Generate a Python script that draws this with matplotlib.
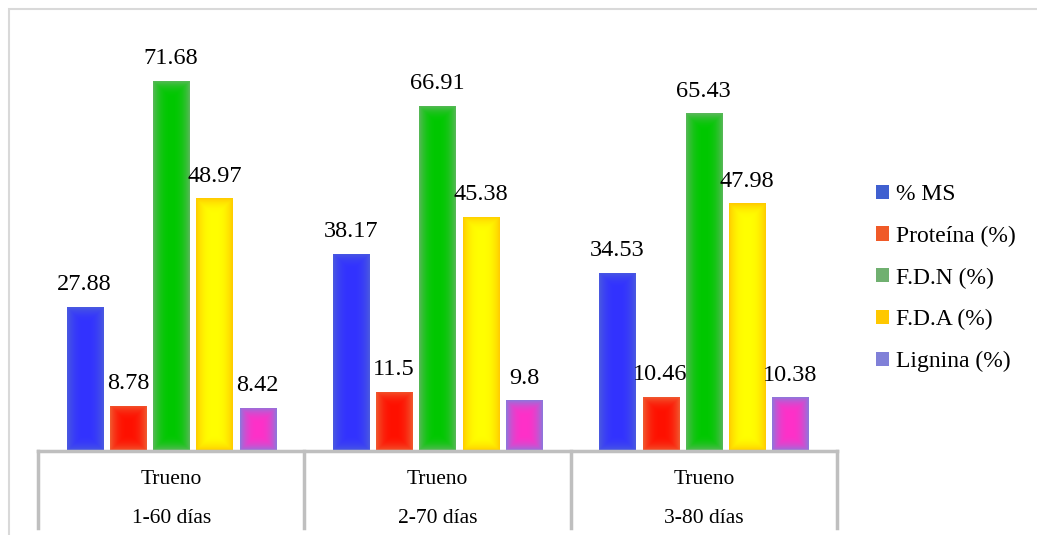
import numpy as np
import matplotlib.pyplot as plt
from matplotlib.patches import Rectangle, Patch
from matplotlib.colors import to_rgb

plt.rcParams['font.family'] = ['Liberation Serif', 'DejaVu Serif']

group_top = ["Trueno", "Trueno", "Trueno"]
group_bottom = ["1-60 días", "2-70 días", "3-80 días"]
series = ["% MS", "Proteína (%)", "F.D.N (%)", "F.D.A (%)", "Lignina (%)"]
ms = [27.88, 38.17, 34.53]
proteina = [8.78, 11.5, 10.46]
fdn = [71.68, 66.91, 65.43]
fda = [48.97, 45.38, 47.98]
lignina = [8.42, 9.8, 10.38]
values = [ms, proteina, fdn, fda, lignina]

# gradient fill: centre colour -> edge colour
centre_cols = ["#3232ff", "#ff1000", "#00c800", "#ffff00", "#ff30c8"]
edge_cols = ["#4a5ae0", "#f05a30", "#58b858", "#ffcc00", "#8c78dc"]
legend_cols = ["#4060d0", "#f05a28", "#70b070", "#ffc800", "#8080d8"]

W, H = 1037, 535
fig = plt.figure(figsize=(W / 100, H / 100), dpi=100)

# outer chart frame
fig.patches.append(Rectangle((9 / W, -0.1), 1.2, 1 - 9 / H + 0.1,
                             transform=fig.transFigure, fill=False,
                             edgecolor="#d9d9d9", linewidth=1.5))

ax = fig.add_axes([38 / W, 1 - 451 / H, (837 - 38) / W, (451 - 38) / H])
ax.set_xlim(0, 3)
ax.set_ylim(0, 80)
ax.axis("off")

bw = 36 / 266.3
pitch = 43.3 / 266.3


def grad_bar(x0, w, h, c_in, c_out):
    ny, nx = 200, 60
    xs = np.linspace(-1, 1, nx)
    ys = np.linspace(-1, 1, ny)
    X, Y = np.meshgrid(xs, ys)
    # pixel distance from edges, bars are ~36 px wide
    hpx = h * 5.162
    dx = (1 - np.abs(X)) * 18
    dy = (1 - np.abs(Y)) * hpx / 2
    d = np.minimum(dx, dy)
    t = np.clip(1 - d / min(18, hpx / 2), 0, 1) ** 2.5
    a = np.array(to_rgb(c_in))
    b = np.array(to_rgb(c_out))
    img = a[None, None, :] * (1 - t[..., None]) + b[None, None, :] * t[..., None]
    rect = Rectangle((x0, 0), w, h, facecolor="none", edgecolor="none")
    ax.add_patch(rect)
    im = ax.imshow(img, extent=(x0, x0 + w, 0, h), aspect="auto",
                   interpolation="bilinear", zorder=2)
    im.set_clip_path(rect)


for gi in range(3):
    centre = gi + 0.5
    for si in range(5):
        xc = centre + (si - 2) * pitch
        v = values[si][gi]
        grad_bar(xc - bw / 2, bw, v, centre_cols[si], edge_cols[si])
        ax.annotate(f"{v:g}", (xc, v), xytext=(0, 12),
                    textcoords="offset points", ha="center", va="baseline",
                    fontsize=17.5, color="#000000")

ax.set_xlim(0, 3)
ax.set_ylim(0, 80)

# category axis with separators
sep_col = "#bfbfbf"
ax.plot([0, 3], [0, 0], color=sep_col, linewidth=2.5, clip_on=False, zorder=3)
for xb in range(4):
    ax.plot([xb, xb], [0, -77 / 5.162], color=sep_col, linewidth=2.5,
            clip_on=False, zorder=3)
for gi in range(3):
    ax.text(gi + 0.5, -28 / 5.162, group_top[gi], ha="center", va="center",
            fontsize=15.5)
    ax.text(gi + 0.5, -67 / 5.162, group_bottom[gi], ha="center", va="center",
            fontsize=15.5)

handles = [Patch(facecolor=c, edgecolor="none") for c in legend_cols]
fig.legend(handles, series, loc="upper left", bbox_to_anchor=(855 / W, 1 - 163 / H),
           frameon=False, fontsize=17, handlelength=0.55, handleheight=0.55,
           handletextpad=0.3, labelspacing=0.87)

fig.savefig("out.png", dpi=100)
